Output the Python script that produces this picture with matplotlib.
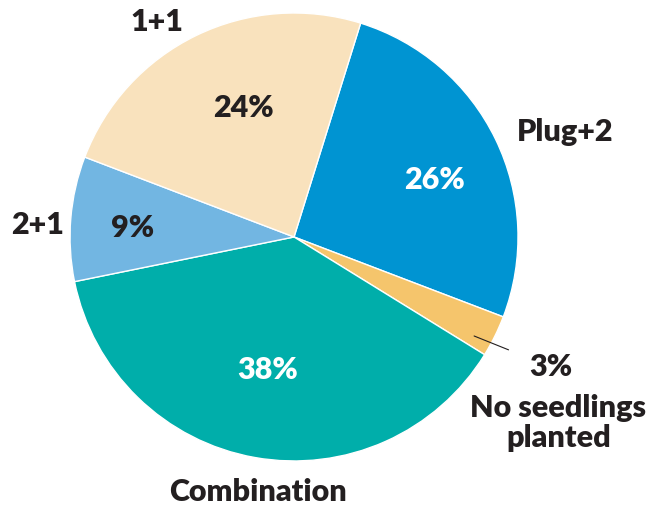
import matplotlib.pyplot as plt

# seedling stock types
labels = ['Plug+2', 'No seedlings\nplanted', 'Combination', '2+1', '1+1']
shares = [26, 3, 38, 9, 24]
colors = ['#0094d2', '#f5c56c', '#00aeaa', '#72b6e2', '#f9e2bd']
pct_colors = ['white', '#231f20', 'white', '#231f20', '#231f20']

plt.rcParams['font.family'] = ['Lato', 'DejaVu Sans']
ink = '#231f20'
fs = 22

fig = plt.figure(figsize=(6.67, 5.08), dpi=100)
ax = fig.add_axes([0, 0, 1, 1])

wedges, _ = ax.pie(
    shares,
    colors=colors,
    startangle=72.7,
    counterclock=False,
    radius=1.0,
    wedgeprops=dict(edgecolor='white', linewidth=1.0),
)

# pie() resets the limits, so fix the frame afterwards
ax.set_xlim(-1.3125, 1.665)
ax.set_ylim(-1.21, 1.058)
ax.set_aspect('equal')
ax.axis('off')

# percent labels inside the slices
pct_pos = [(0.625, 0.254), None, (-0.116, -0.594), (-0.719, 0.04), (-0.228, 0.576)]
for v, pos, c in zip(shares, pct_pos, pct_colors):
    if pos is None:
        continue
    ax.text(pos[0], pos[1], f'{v}%', color=c, fontsize=fs, fontweight='heavy',
            ha='center', va='center')

# category names outside
name_pos = [(1.21, 0.47), (1.18, -0.83), (-0.161, -1.14), (-1.143, 0.054), (-0.612, 0.96)]
for lab, pos in zip(labels, name_pos):
    ax.text(pos[0], pos[1], lab, color=ink, fontsize=fs, fontweight='heavy',
            ha='center', va='center', linespacing=1.12)

# small slice gets a leader line
ax.annotate(f'{shares[1]}%', xy=(0.804, -0.442), xytext=(1.147, -0.58),
            color=ink, fontsize=fs, fontweight='heavy', ha='center', va='center',
            arrowprops=dict(arrowstyle='-', color=ink, lw=0.8,
                            shrinkA=14, shrinkB=0))

fig.savefig('out.png', dpi=100)
